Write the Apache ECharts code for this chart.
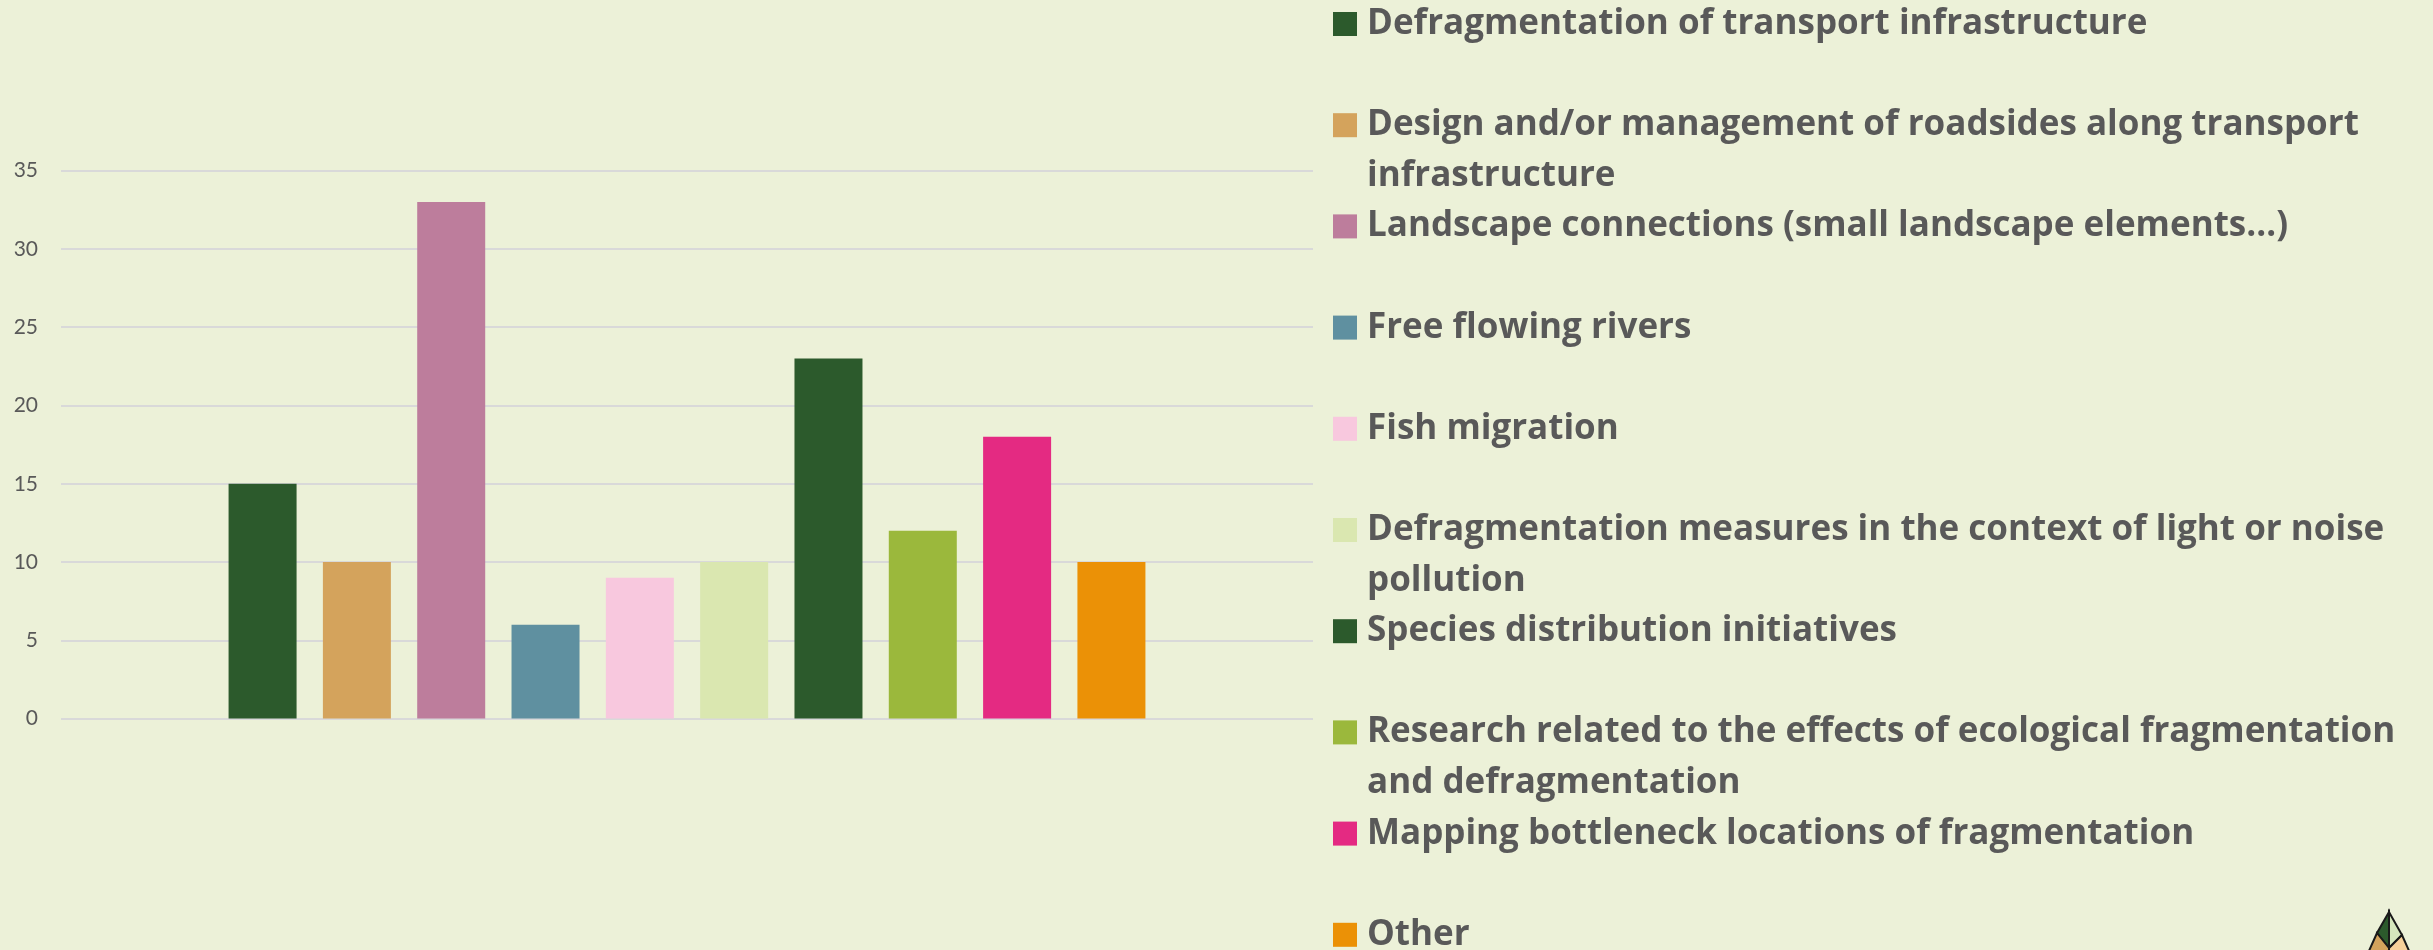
<!DOCTYPE html>
<html>
<head>
    <meta charset="utf-8" />
    <style>
        html, body {
        margin: 0;
        padding: 0;
        background-color: #ECF1D8;
        }
        #barChart {
        width: 2433px;
        height: 950px;
        }
    </style>
    <script src="https://cdn.jsdelivr.net/npm/echarts@6/dist/echarts.min.js"></script>
</head>
<body>
    <div id="barChart"></div>

    <script type="text/javascript">
        // categories (one bar each, shown in the legend)
        var names = [
            'Defragmentation of transport infrastructure',
            'Design and/or management of roadsides along transport infrastructure',
            'Landscape connections (small landscape elements…)',
            'Free flowing rivers',
            'Fish migration',
            'Defragmentation measures in the context of light or noise pollution',
            'Species distribution initiatives',
            'Research related to the effects of ecological fragmentation and defragmentation',
            'Mapping bottleneck locations of fragmentation',
            'Other'
        ];
        // count per category
        var values = [15, 10, 33, 6, 9, 10, 23, 12, 18, 10];
        // y axis ticks
        var yMin = 0;
        var yMax = 35;
        var yStep = 5;

        var palette = ['#2C5A2C', '#D4A35C', '#BD7D9C', '#5F90A0', '#F8C8DE',
            '#DAE7B0', '#2C5A2C', '#9BB83C', '#E42A82', '#EB9106'];

        // legend entries that wrap onto a second line in the original
        var wrapped = {};
        wrapped[names[1]] = 'Design and/or management of roadsides along transport\ninfrastructure';
        wrapped[names[5]] = 'Defragmentation measures in the context of light or noise\npollution';
        wrapped[names[7]] = 'Research related to the effects of ecological fragmentation\nand defragmentation';

        var series = [];
        for (var i = 0; i < names.length; i++) {
            series.push({
                name: names[i],
                type: 'bar',
                data: [values[i]],
                barWidth: 68,
                barGap: '38.7%',
                itemStyle: { color: palette[i] }
            });
        }

        var barOptions = {
            backgroundColor: '#ECF1D8',
            animation: false,
            grid: {
                left: 61,
                right: 1120,
                top: 170.6,
                bottom: 231.4
            },
            legend: {
                orient: 'vertical',
                left: 1333,
                top: -52.5,
                height: 3000,
                padding: 0,
                itemWidth: 24,
                itemHeight: 24,
                itemGap: -51.8,
                icon: 'rect',
                selectedMode: false,
                data: names,
                // every entry is three lines tall with the name on the middle one,
                // so the icon stays level with the first line of wrapped names
                formatter: function (name) {
                    return wrapped[name] ? ' \n' + wrapped[name] : ' \n' + name + '\n ';
                },
                textStyle: {
                    fontFamily: 'Open Sans',
                    fontWeight: 'bold',
                    fontSize: 35,
                    color: '#595959',
                    lineHeight: 51,
                    padding: [0, 0, 0, 5]
                }
            },
            xAxis: {
                type: 'category',
                data: [''],
                axisLine: { show: false },
                axisTick: { show: false },
                axisLabel: { show: false }
            },
            yAxis: {
                type: 'value',
                min: yMin,
                max: yMax,
                interval: yStep,
                axisLine: { show: false },
                axisTick: { show: false },
                axisLabel: {
                    margin: 23,
                    fontFamily: 'Lato',
                    fontSize: 21,
                    color: '#595959'
                },
                splitLine: {
                    lineStyle: { color: '#D9D9D9', width: 2 }
                }
            },
            graphic: [
                // small leaf logo in the corner
                { type: 'polygon', shape: { points: [[2389, 912], [2377, 933], [2389, 948]] },
                  style: { fill: '#2C5A2C', stroke: '#1a1a1a', lineWidth: 2 } },
                { type: 'polygon', shape: { points: [[2389, 912], [2402, 935], [2389, 948]] },
                  style: { fill: '#D6E8BD', stroke: '#1a1a1a', lineWidth: 2 } },
                { type: 'polygon', shape: { points: [[2377, 933], [2389, 948], [2389, 962], [2364, 962]] },
                  style: { fill: '#D4A35C', stroke: '#1a1a1a', lineWidth: 2 } },
                { type: 'polygon', shape: { points: [[2402, 935], [2389, 948], [2389, 962], [2414, 962]] },
                  style: { fill: '#F8D19A', stroke: '#1a1a1a', lineWidth: 2 } }
            ],
            series: series
        };

        var myBarChart = echarts.init(document.getElementById('barChart'));
        myBarChart.setOption(barOptions);
    </script>
</body>
</html>
